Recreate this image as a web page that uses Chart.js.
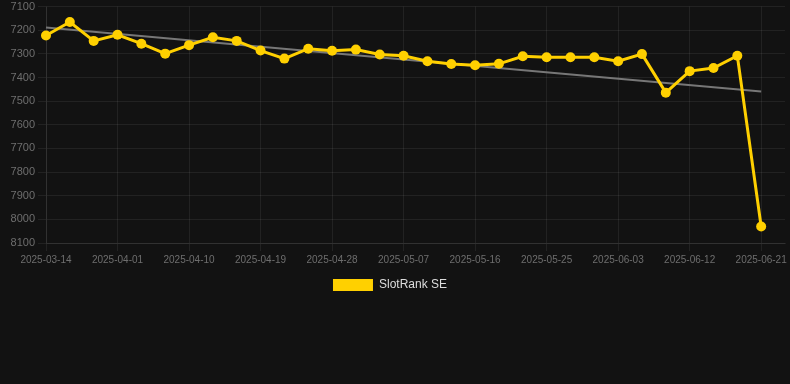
<!DOCTYPE html>
<html>
<head>
<meta charset="utf-8">
<script src="https://cdn.jsdelivr.net/npm/chart.js@4/dist/chart.umd.min.js"></script>
<style>
  html, body { margin: 0; padding: 0; background: #121212; overflow: hidden; }
  #wrap { width: 790px; height: 304px; position: relative; margin-top: -3px; }
</style>
</head>
<body>
<div id="wrap"><canvas id="c"></canvas></div>
<script>
const categories = [
  '2025-03-14','2025-03-20','2025-03-26','2025-04-01','2025-04-04','2025-04-07','2025-04-10',
  '2025-04-13','2025-04-16','2025-04-19','2025-04-22','2025-04-25','2025-04-28',
  '2025-05-01','2025-05-04','2025-05-07','2025-05-10','2025-05-13','2025-05-16',
  '2025-05-19','2025-05-22','2025-05-25','2025-05-28','2025-05-31','2025-06-03',
  '2025-06-06','2025-06-09','2025-06-12','2025-06-15','2025-06-18','2025-06-21','2025-06-24'
];
const rankValues = [
  7222, 7165, 7245, 7219, 7257, 7299, 7263, 7230, 7245, 7286, 7320, 7278, 7287, 7282, 7303,
  7308, 7331, 7343, 7348, 7342, 7310, 7314, 7314, 7314, 7331, 7301, 7464, 7373, 7360, 7308, 8030, null
];
const trendStart = 7188;
const trendEnd = 7459;
const trendValues = categories.map((c, i) => i === 0 ? trendStart : (i === 30 ? trendEnd : null));
const yTicks = [7100, 8100, 100];

const gridCol = 'rgba(255,255,255,0.07)';

const legendShift = {
  id: 'legendShift',
  afterLayout(chart) {
    if (chart.legend) { chart.legend.left -= 5; chart.legend.right -= 5; }
  }
};

new Chart(document.getElementById('c'), {
  type: 'line',
  plugins: [legendShift],
  data: {
    labels: categories,
    datasets: [
      {
        label: 'SlotRank SE',
        data: rankValues,
        borderColor: '#ffd000',
        backgroundColor: '#ffd000',
        borderWidth: 3,
        pointRadius: 5,
        pointHoverRadius: 5,
        pointBorderWidth: 0,
        pointBackgroundColor: '#ffd000',
        tension: 0
      },
      {
        label: 'trend',
        data: trendValues,
        spanGaps: true,
        borderColor: '#777777',
        borderWidth: 2,
        pointRadius: 0,
        tension: 0
      }
    ]
  },
  options: {
    responsive: true,
    maintainAspectRatio: false,
    animation: false,
    layout: { padding: 0 },
    font: { family: '"Liberation Sans", Arial, sans-serif' },
    scales: {
      x: {
        type: 'category',
        offset: false,
        grid: {
          color: (ctx) => (ctx.index % 3 === 0 && ctx.index <= 30) ? gridCol : 'rgba(0,0,0,0)',
          tickColor: (ctx) => (ctx.index % 3 === 0 && ctx.index <= 30) ? gridCol : 'rgba(0,0,0,0)'
        },
        border: { color: gridCol },
        ticks: {
          autoSkip: false,
          maxRotation: 0,
          color: '#6e6e6e',
          font: { size: 10, family: '"Liberation Sans", Arial, sans-serif' },
          callback: function(v, i) { return (i % 3 === 0 && i <= 30) ? categories[i] : ''; }
        }
      },
      y: {
        reverse: true,
        min: yTicks[0],
        max: yTicks[1],
        afterFit: (scale) => { scale.width = 46; },
        grid: { color: gridCol, tickColor: gridCol },
        border: { color: gridCol },
        ticks: {
          stepSize: yTicks[2],
          color: '#6e6e6e',
          font: { size: 11, family: '"Liberation Sans", Arial, sans-serif' },
          callback: (v) => String(v)
        }
      }
    },
    plugins: {
      legend: {
        position: 'bottom',
        labels: {
          color: '#dddddd',
          boxWidth: 40,
          boxHeight: 12,
          font: { size: 12, family: '"Liberation Sans", Arial, sans-serif' },
          filter: (item) => item.text !== 'trend',
          generateLabels: (chart) => Chart.defaults.plugins.legend.labels.generateLabels(chart)
            .map((l) => Object.assign(l, { lineWidth: 0 }))
        }
      },
      tooltip: { enabled: false }
    }
  }
});
</script>
</body>
</html>
